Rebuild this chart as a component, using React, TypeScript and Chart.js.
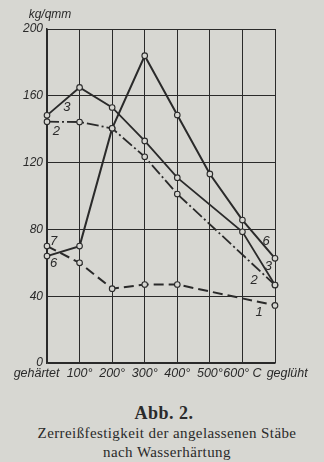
import React, { useEffect, useRef } from "react";
import { Chart, registerables } from "chart.js";

Chart.register(...registerables);

// ---- data ----
const categories = ["gehärtet", "100°", "200°", "300°", "400°", "500°", "600° C", "geglüht"];
const curve1 = [70, 60, 44.5, 47, 47, null, null, 34.5];
const curve2 = [144.5, 144.3, 140.5, 123.5, 101.2, null, null, 46.7];
const curve3 = [148.3, 165, 153, 133, 111, null, 78.6, 46.7];
const curve6 = [64, 70, 140.5, 184, 148.5, 113.2, 85.6, 62.7];
const yTicks = [0, 40, 80, 120, 160, 200];
const yUnit = "kg/qmm";
const captionNumber = "Abb. 2.";
const captionLine1 = "Zerreißfestigkeit der angelassenen Stäbe";
const captionLine2 = "nach Wasserhärtung";

// curve annotations in data coordinates (category index, value)
const curveLabelText = ["3", "2", "7", "6", "6", "3", "2", "1"];
const curveLabelX = [0.61, 0.29, 0.2, 0.2, 6.73, 6.8, 6.36, 6.51];
const curveLabelY = [153, 138.5, 72.6, 59.9, 72.6, 57.7, 49.7, 30.1];

const INK = "#2a2a2a";
const PAPER = "#d7d7d2";
const W = 324;
const H = 390;
const PLOT_BOTTOM = 363;

export default function App() {
  const ref = useRef<HTMLCanvasElement>(null);

  useEffect(() => {
    const annot = {
      id: "annot",
      afterDatasetsDraw(chart: any) {
        const { ctx, scales } = chart;
        const x = scales.x;
        const y = scales.y;
        ctx.save();
        ctx.fillStyle = INK;
        ctx.textAlign = "center";
        ctx.textBaseline = "middle";
        ctx.font = "italic 13px 'Liberation Sans'";
        curveLabelText.forEach((t, i) => {
          ctx.fillText(t, x.getPixelForValue(curveLabelX[i]), y.getPixelForValue(curveLabelY[i]));
        });
        ctx.font = "italic 12px 'Liberation Sans'";
        ctx.fillText(yUnit, x.left + 3, y.top - 14);
        ctx.restore();
      },
    };

    const pointStyle = {
      pointRadius: 2.8,
      pointBackgroundColor: PAPER,
      pointBorderColor: INK,
      pointBorderWidth: 1.1,
      borderColor: INK,
      spanGaps: true,
      tension: 0,
      fill: false,
    };

    const n = categories.length;
    const chart = new Chart(ref.current as HTMLCanvasElement, {
      type: "line",
      data: {
        labels: categories,
        datasets: [
          { label: "1", data: curve1, borderWidth: 2, borderDash: [10, 5], ...pointStyle },
          { label: "2", data: curve2, borderWidth: 1.8, borderDash: [12, 3, 2, 3], ...pointStyle },
          { label: "3", data: curve3, borderWidth: 1.8, ...pointStyle },
          { label: "6", data: curve6, borderWidth: 2, ...pointStyle },
        ],
      },
      options: {
        animation: false,
        responsive: false,
        layout: { padding: { top: 29, right: 49, left: 0, bottom: 0 } },
        plugins: { legend: { display: false }, tooltip: { enabled: false } },
        scales: {
          x: {
            type: "category",
            offset: false,
            grid: { color: INK, lineWidth: 1, offset: false, drawTicks: false },
            border: { color: INK, width: 1.5 },
            ticks: {
              autoSkip: false,
              maxRotation: 0,
              minRotation: 0,
              padding: 3,
              color: INK,
              font: { family: "'Liberation Sans'", style: "italic", size: 12.5 },
              callback: (_v: any, i: number) => {
                const t = categories[i];
                if (i === 0) return t + "      ";
                if (i === n - 1) return "       " + t;
                return t;
              },
            },
            afterFit: (s: any) => {
              s.height = H - PLOT_BOTTOM;
            },
          },
          y: {
            min: 0,
            max: 200,
            afterBuildTicks: (s: any) => {
              s.ticks = yTicks.map((v) => ({ value: v }));
            },
            grid: { color: INK, lineWidth: 1, drawTicks: false },
            border: { color: INK, width: 1.5 },
            ticks: {
              padding: 4,
              color: INK,
              font: { family: "'Liberation Sans'", style: "italic", size: 12 },
              callback: (v: any) => String(v),
            },
            afterFit: (s: any) => {
              s.width = 47;
            },
          },
        },
      } as any,
      plugins: [annot],
    });
    return () => chart.destroy();
  }, []);

  const serif = "'Liberation Serif', 'DejaVu Serif', serif";
  return (
    <div
      style={{
        position: "fixed",
        left: 0,
        top: 0,
        width: W,
        height: 462,
        background: PAPER,
        overflow: "hidden",
        color: INK,
      }}
    >
      <canvas ref={ref} width={W} height={H} style={{ display: "block", width: W, height: H }} />
      <div
        style={{
          position: "absolute",
          top: 403,
          left: 0,
          width: W,
          textAlign: "center",
          fontFamily: serif,
          fontWeight: "bold",
          fontSize: 18,
          lineHeight: "20px",
          letterSpacing: 0.5,
          paddingLeft: 4,
          boxSizing: "border-box",
        }}
      >
        {captionNumber}
      </div>
      <div
        style={{
          position: "absolute",
          top: 424,
          left: 0,
          width: W,
          textAlign: "center",
          fontFamily: serif,
          fontSize: 15,
          lineHeight: "19px",
          letterSpacing: 0.4,
          paddingLeft: 10,
          boxSizing: "border-box",
        }}
      >
        {captionLine1}
        <br />
        {captionLine2}
      </div>
    </div>
  );
}
